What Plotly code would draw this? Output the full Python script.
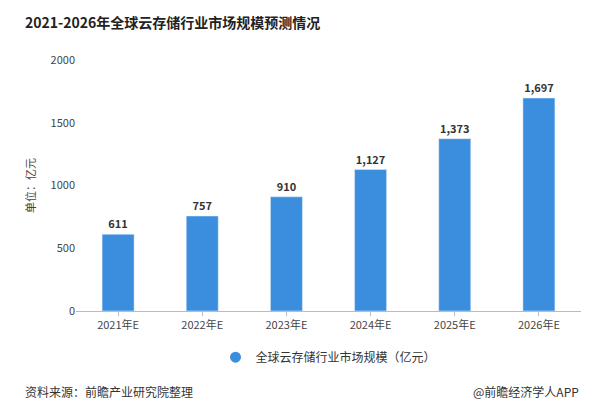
import plotly.graph_objects as go

years = ['2021年E', '2022年E', '2023年E', '2024年E', '2025年E', '2026年E']
market_size = [611, 757, 910, 1127, 1373, 1697]
y_ticks = [0, 500, 1000, 1500, 2000]

fig = go.Figure(go.Bar(
    x=years, y=market_size, showlegend=False,
    marker_color='#3b8ede', width=0.38,
    text=[f'<b>{v:,}</b>' for v in market_size], textposition='outside',
    textfont=dict(size=11, color='#333', family='Noto Sans CJK SC'),
    cliponaxis=False,
))
# legend entry with a round marker, like the reference
fig.add_trace(go.Scatter(x=[years[0]], y=[None], mode='markers',
                         name='全球云存储行业市场规模（亿元）',
                         marker=dict(symbol='circle', size=11, color='#3b8ede')))

fig.update_layout(
    width=593, height=413,
    paper_bgcolor='white', plot_bgcolor='white',
    font=dict(family='Noto Sans CJK SC', size=11, color='#555'),
    margin=dict(l=68, r=20, t=52, b=110),
    showlegend=True,
    legend=dict(orientation='h', x=0.5, xanchor='center', y=-0.126, yanchor='top',
                font=dict(size=12, color='#333')),
    xaxis=dict(showline=True, linecolor='#bbb', ticks='outside', tickcolor='#bbb',
               ticklen=4, tickfont=dict(size=11, color='#444')),
    yaxis=dict(range=[0, 2000], tickvals=y_ticks, showgrid=False, showline=False,
               tickfont=dict(size=11, color='#444'),
               title=dict(text='单位：亿元', font=dict(size=11, color='#444'), standoff=12)),
)

fig.add_annotation(text='<b>2021-2026年全球云存储行业市场规模预测情况</b>',
                   xref='paper', yref='paper', x=-0.105, y=1.2, xanchor='left', yanchor='top',
                   showarrow=False, font=dict(size=14, color='#222'))
fig.add_annotation(text='资料来源：前瞻产业研究院整理', xref='paper', yref='paper',
                   x=-0.105, y=-0.279, xanchor='left', yanchor='top', showarrow=False,
                   font=dict(size=12, color='#333'))
fig.add_annotation(text='@前瞻经济学人APP', xref='paper', yref='paper',
                   x=1.0, y=-0.279, xanchor='right', yanchor='top', showarrow=False,
                   font=dict(size=12, color='#333'))

fig.write_html('out.html')
